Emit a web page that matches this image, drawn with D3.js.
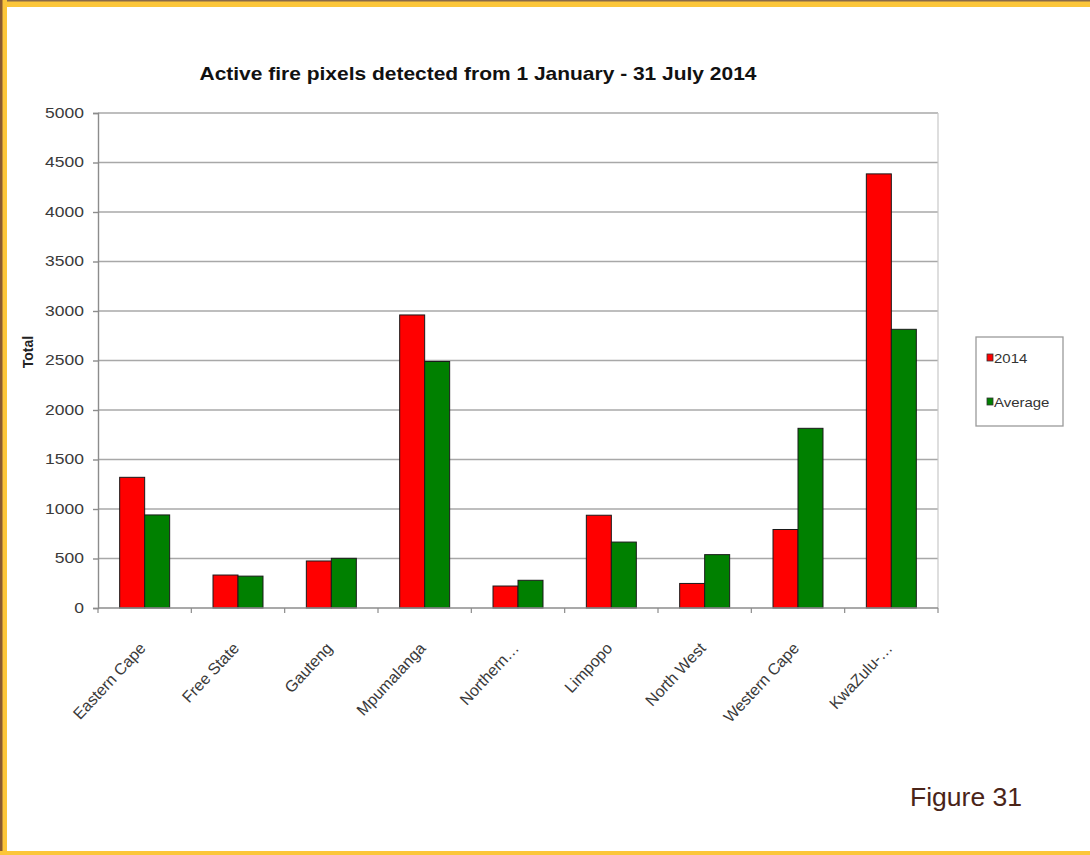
<!DOCTYPE html>
<html><head><meta charset="utf-8">
<script src="https://cdn.jsdelivr.net/npm/d3@7"></script>
<style>
html,body{margin:0;padding:0;background:#fff;}
svg{display:block;}
text{font-family:"Liberation Sans",Arial,sans-serif;}
</style></head>
<body>
<svg id="chart" width="1090" height="855"></svg>
<script>
const categories = ["Eastern Cape","Free State","Gauteng","Mpumalanga","Northern…","Limpopo","North West","Western Cape","KwaZulu-…"];
const seriesNames = ["2014","Average"];
const values2014 = [1320, 333, 475, 2960, 222, 937, 248, 793, 4385];
const valuesAverage = [940, 322, 502, 2490, 280, 666, 539, 1815, 2815];
const yTicks = [0,500,1000,1500,2000,2500,3000,3500,4000,4500,5000];
const colors = ["#ff0000","#008000"];
const title = "Active fire pixels detected from 1 January - 31 July 2014";

(function(){
const svg = d3.select("#chart");
const W = 1090, H = 855;

// frame
svg.append("rect").attr("x",0).attr("y",0).attr("width",W).attr("height",H).attr("fill","#fff");
svg.append("rect").attr("x",0).attr("y",0).attr("width",W).attr("height",7).attr("fill","#fcc63a");
svg.append("rect").attr("x",0).attr("y",0).attr("width",W).attr("height",1.5).attr("fill","#8a6a48");
svg.append("rect").attr("x",0).attr("y",0).attr("width",7).attr("height",H).attr("fill","#fcc63a");
svg.append("rect").attr("x",0).attr("y",0).attr("width",2.5).attr("height",H).attr("fill","#8a5a30");
svg.append("rect").attr("x",0).attr("y",851).attr("width",W).attr("height",4).attr("fill","#fcc63a");

function stretch(sel, f){
  sel.each(function(){
    const n = this.getComputedTextLength();
    d3.select(this).attr("textLength", n*f).attr("lengthAdjust","spacingAndGlyphs");
  });
}

const pL = 98, pR = 938, pT = 113, pB = 608;

const x = d3.scaleBand().domain(categories).range([pL, pR]).padding(0);
const x1 = d3.scaleBand().domain(seriesNames).range([0, x.bandwidth()]).paddingInner(0).paddingOuter(0.867);
const y = d3.scaleLinear().domain([0,5000]).range([pB, pT]);

// gridlines
svg.append("g").selectAll("line").data(yTicks.filter(d=>d>0)).join("line")
  .attr("x1",pL).attr("x2",pR).attr("y1",d=>y(d)).attr("y2",d=>y(d))
  .attr("stroke","#a8a8a8").attr("stroke-width",1.6);
// right border of plot
svg.append("line").attr("x1",pR).attr("x2",pR).attr("y1",pT).attr("y2",pB)
  .attr("stroke","#c8c8c8").attr("stroke-width",1.2);

// bars
const data = categories.map((c,i)=>({cat:c, vals:[values2014[i], valuesAverage[i]]}));
const g = svg.append("g");
data.forEach(d=>{
  g.selectAll(null).data(d.vals.map((v,j)=>({s:seriesNames[j], v, j}))).join("rect")
    .attr("x", e=>x(d.cat)+x1(e.s))
    .attr("y", e=>y(e.v))
    .attr("width", x1.bandwidth())
    .attr("height", e=>pB - y(e.v))
    .attr("fill", e=>colors[e.j])
    .attr("stroke","#1a1a1a").attr("stroke-width",1);
});

// y axis
const yAxis = svg.append("g").attr("transform",`translate(${pL},0)`)
  .call(d3.axisLeft(y).tickValues(yTicks).tickSize(5).tickPadding(9).tickFormat(d3.format("d")));
yAxis.select(".domain").attr("stroke","#8c8c8c").attr("stroke-width",1.4);
yAxis.selectAll(".tick line").attr("stroke","#8c8c8c").attr("stroke-width",1.4);
yAxis.selectAll("text").attr("font-size",14).attr("fill","#3a3a3a").attr("font-family","Liberation Sans, Arial, sans-serif");
stretch(yAxis.selectAll("text"), 1.25);

// x axis
const xAxisG = svg.append("g").attr("transform",`translate(0,${pB})`);
xAxisG.append("line").attr("x1",pL).attr("x2",pR).attr("y1",0).attr("y2",0)
  .attr("stroke","#8c8c8c").attr("stroke-width",1.4);
const bounds = categories.map(c=>x(c)).concat([pR]);
xAxisG.selectAll("line.tk").data(bounds).join("line").attr("class","tk")
  .attr("x1",d=>d).attr("x2",d=>d).attr("y1",0).attr("y2",5)
  .attr("stroke","#8c8c8c").attr("stroke-width",1.2);
xAxisG.selectAll("text").data(categories).join("text")
  .attr("transform", d=>`translate(${x(d)+x.bandwidth()/2+2},${41}) rotate(-47)`)
  .attr("text-anchor","end")
  .attr("font-size",16).attr("fill","#3a3a3a")
  .text(d=>d);

// title
svg.append("text").attr("x",478).attr("y",80).attr("text-anchor","middle")
  .attr("font-size",19).attr("font-weight","bold").attr("fill","#111")
  .attr("textLength",557).attr("lengthAdjust","spacingAndGlyphs")
  .text(title);

// y label
svg.append("text").attr("transform","translate(33,352) rotate(-90)")
  .attr("text-anchor","middle").attr("font-size",14).attr("font-weight","bold").attr("fill","#222")
  .text("Total");

// legend
const lg = svg.append("g");
lg.append("rect").attr("x",976).attr("y",337).attr("width",87).attr("height",89)
  .attr("fill","#fff").attr("stroke","#9a9a9a").attr("stroke-width",1.3);
const ly = [359, 403];
seriesNames.forEach((s,i)=>{
  lg.append("rect").attr("x",987).attr("y",ly[i]-5).attr("width",6).attr("height",7)
    .attr("fill",colors[i]).attr("stroke","#333").attr("stroke-width",0.8);
  const t = lg.append("text").attr("x",994).attr("y",ly[i]+4).attr("font-size",13).attr("fill","#333").text(s);
  stretch(t, 1.15);
});

// figure label
svg.append("text").attr("x",910).attr("y",806).attr("font-size",25).attr("fill","#4a2418")
  .attr("textLength",112).attr("lengthAdjust","spacingAndGlyphs")
  .text("Figure 31");
})();
</script>
</body></html>
